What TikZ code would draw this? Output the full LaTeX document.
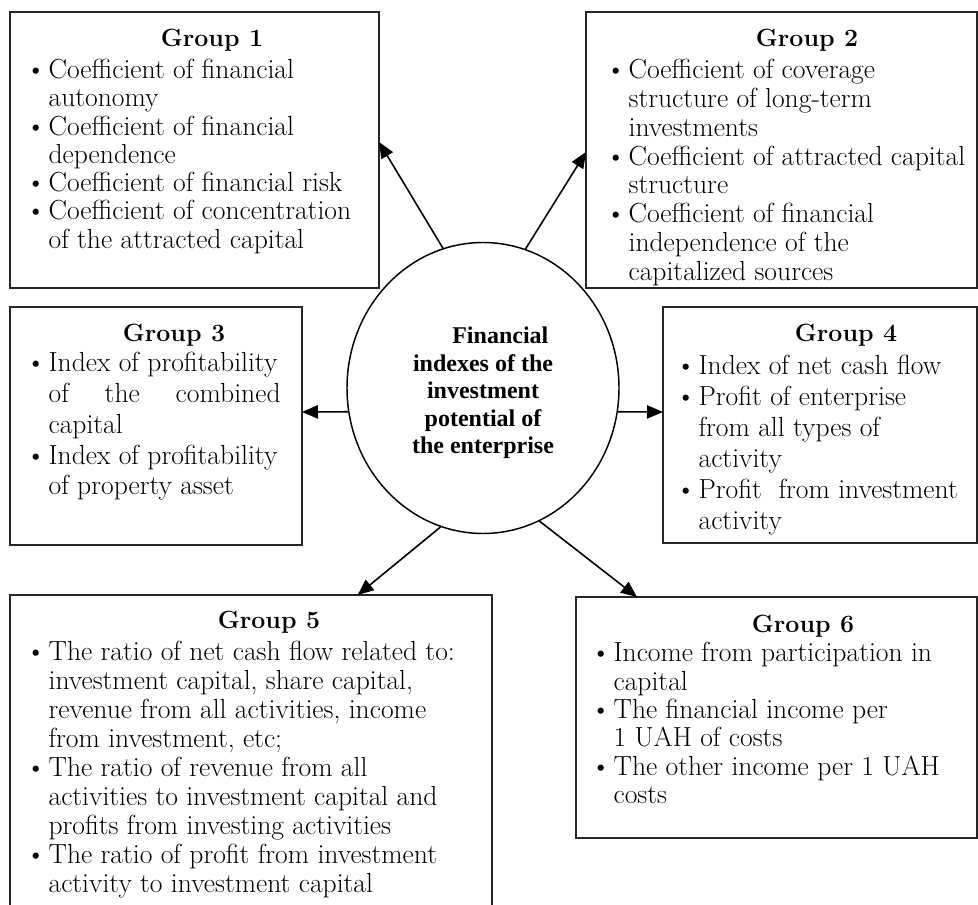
\documentclass[tikz,border=0pt]{standalone}
\usepackage{fontspec}
\newfontfamily\ctrfont{Liberation Serif}
\usetikzlibrary{arrows.meta,shapes.geometric}
\newcommand{\bl}{\makebox[13pt][l]{\hspace*{-4pt}\textbullet}}
\newcommand{\hg}{\hspace*{13pt}}
\tikzset{grpbox/.style={draw=black!85, line width=0.8pt, anchor=north west, inner sep=0pt, outer sep=0pt},
         grptitle/.style={anchor=base, inner sep=0pt, font=\fontsize{18.7}{22}\selectfont\bfseries},
         grplist/.style={anchor=north west, align=left, inner sep=0pt, font=\fontsize{20.7}{#1}\selectfont},
         grplist/.default=21.3pt}

\begin{document}
\begin{tikzpicture}[x=0.75pt, y=-0.75pt, arr/.style={-{Triangle[length=12pt,width=10pt]}, line width=1.2pt}]
  \useasboundingbox (0,0) rectangle (978,905);
  \node[grpbox, minimum width=276.75pt, minimum height=207pt] (g1) at (10,12) {};
  \node[grpbox, minimum width=293.25pt, minimum height=207pt] (g2) at (586,12) {};
  \node[grpbox, minimum width=219pt, minimum height=178.5pt] (g3) at (10,307) {};
  \node[grpbox, minimum width=235.5pt, minimum height=177pt] (g4) at (663,307) {};
  \node[grpbox, minimum width=361.5pt, minimum height=240pt] (g5) at (10,595) {};
  \node[grpbox, minimum width=300.75pt, minimum height=180.75pt] (g6) at (576,597) {};

  \node[grptitle] (g1t) at (212,47) {Group 1};
  \node[grptitle] (g2t) at (807,47) {Group 2};
  \node[grptitle] (g3t) at (174,342) {Group 3};
  \node[grptitle] (g4t) at (846,342) {Group 4};
  \node[grptitle] (g5t) at (269,628) {Group 5};
  \node[grptitle] (g6t) at (803,632) {Group 6};

  \node[grplist=21.2pt] (g1l) at (31,59) {\bl Coefficient of financial\\ \hg autonomy\\
    \bl Coefficient of financial\\ \hg dependence\\ \bl Coefficient of financial risk\\
    \bl Coefficient of concentration\\ \hg of the attracted capital};
  \node[grplist=21.6pt] (g2l) at (611,59) {\bl Coefficient of coverage\\ \hg structure of long-term\\
    \hg investments\\ \bl Coefficient of attracted capital\\ \hg structure\\
    \bl Coefficient of financial\\ \hg independence of the\\ \hg capitalized sources};
  \node[grplist=23.1pt] (g3l) at (31,352) {\bl Index of profitability\\
    \hg\makebox[174pt][s]{of the combined}\\ \hg capital\\
    \bl Index of profitability\\ \hg of property asset};
  \node[grplist=23.25pt] (g4l) at (681,355) {\bl Index of net cash flow\\ \bl Profit of enterprise\\
    \hg from all types of\\ \hg activity\\ \bl Profit\ \ from investment\\ \hg activity};
  \node[grplist=21.7pt] (g5l) at (31,641) {\bl The ratio of net cash flow related to:\\
    \hg investment capital, share capital,\\ \hg revenue from all activities, income\\
    \hg from investment, etc;\\ \bl The ratio of revenue from all\\
    \hg activities to investment capital and\\ \hg profits from investing activities\\
    \bl The ratio of profit from investment\\ \hg activity to investment capital};
  \node[grplist=21.3pt] (g6l) at (596,642) {\bl Income from participation in\\ \hg capital\\
    \bl The financial income per\\ \hg 1 UAH of costs\\ \bl The other income per 1 UAH\\ \hg costs};

  \node[ellipse, draw, line width=1.1pt, minimum width=204pt, minimum height=218.25pt, inner sep=0pt] (c) at (483,388) {};
  \node[align=center, inner sep=0pt, font=\ctrfont\bfseries\fontsize{18}{20.6}\selectfont] (ct) at ([yshift=-3.75pt]c.center)
        {\hspace*{26pt}Financial\\ indexes of the\\ investment\\ potential of\\ the enterprise};

  \draw[arr] (c.106) -- ([yshift=6pt]g1.east);
  \draw[arr] (c.73) -- ([yshift=-1.5pt]g2.west);
  \draw[arr] (c.190) -- ([yshift=10.5pt]g3.east);
  \draw[arr] (c.350) -- ([yshift=9.75pt]g4.west);
  \draw[arr] (c.253) -- ([xshift=80pt]g5.north);
  \draw[arr] (c.293) -- ([xshift=45.75pt]g6.north west);
\end{tikzpicture}
\end{document}
